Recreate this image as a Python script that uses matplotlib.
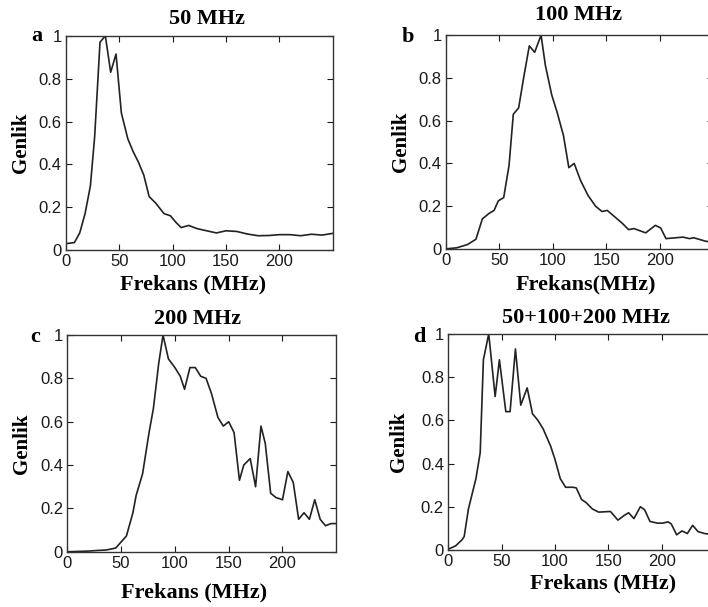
import matplotlib
matplotlib.use("Agg")
from matplotlib import pyplot as plt

# frequency spectra (MHz, normalised amplitude)
freq_a = [0, 8, 13, 18, 23, 27, 32, 37, 42, 47, 52, 58, 63, 68, 73, 78, 84, 92, 98, 103,
          108, 115, 123, 132, 141, 150, 160, 170, 180, 190, 200, 210, 220, 230, 240, 250]
amp_a = [0.03, 0.035, 0.08, 0.17, 0.30, 0.53, 0.97, 1.0, 0.83, 0.915, 0.64, 0.52, 0.46, 0.41,
         0.35, 0.25, 0.22, 0.17, 0.16, 0.13, 0.105, 0.115, 0.10, 0.09, 0.08, 0.09, 0.087,
         0.075, 0.067, 0.068, 0.072, 0.072, 0.067, 0.074, 0.07, 0.078]

freq_b = [0, 10, 20, 28, 34, 40, 45, 49, 54, 59, 63, 68, 73, 78, 83, 89, 93, 99, 104, 110,
          115, 120, 126, 133, 140, 146, 151, 158, 165, 171, 176, 187, 196, 201, 206, 215,
          222, 228, 232, 243, 250]
amp_b = [0, 0.005, 0.02, 0.045, 0.14, 0.165, 0.18, 0.225, 0.24, 0.39, 0.63, 0.66, 0.81, 0.95,
         0.92, 1.0, 0.86, 0.72, 0.64, 0.53, 0.38, 0.40, 0.32, 0.25, 0.20, 0.175, 0.18, 0.15,
         0.12, 0.09, 0.095, 0.075, 0.11, 0.098, 0.048, 0.052, 0.055, 0.048, 0.052, 0.036, 0.03]

freq_c = [0, 19, 28, 36, 45, 50, 55, 61, 64, 70, 76, 80, 85, 89, 94, 100, 105, 109, 114, 119,
          124, 129, 134, 140, 145, 150, 155, 160, 164, 170, 175, 180, 184, 189, 194, 200, 205,
          210, 215, 220, 225, 230, 235, 240, 245, 250]
amp_c = [0, 0.003, 0.006, 0.008, 0.017, 0.045, 0.073, 0.18, 0.26, 0.36, 0.55, 0.66, 0.87, 1.0,
         0.89, 0.85, 0.81, 0.75, 0.85, 0.85, 0.81, 0.80, 0.73, 0.62, 0.58, 0.60, 0.55, 0.33,
         0.40, 0.43, 0.30, 0.58, 0.50, 0.27, 0.25, 0.24, 0.37, 0.32, 0.15, 0.18, 0.15, 0.24,
         0.15, 0.12, 0.13, 0.13]

freq_d = [0, 7, 13, 15, 19, 22, 26, 30, 33, 38, 44, 48, 54, 58, 63, 68, 74, 79, 84, 89, 96,
          100, 105, 110, 117, 120, 125, 129, 135, 141, 152, 159, 165, 169, 174, 180, 184, 189,
          196, 201, 206, 209, 214, 219, 224, 229, 234, 240, 250]
amp_d = [0.003, 0.019, 0.047, 0.062, 0.19, 0.25, 0.33, 0.45, 0.88, 1.0, 0.71, 0.88, 0.64, 0.64,
         0.93, 0.67, 0.75, 0.63, 0.60, 0.56, 0.48, 0.42, 0.33, 0.29, 0.29, 0.287, 0.233, 0.22,
         0.19, 0.175, 0.178, 0.138, 0.16, 0.172, 0.145, 0.20, 0.186, 0.132, 0.124, 0.124, 0.13,
         0.12, 0.07, 0.088, 0.076, 0.114, 0.085, 0.076, 0.07]

titles = ["50 MHz", "100 MHz", "200 MHz", "50+100+200 MHz"]
letters = ["a", "b", "c", "d"]
xlabels = ["Frekans (MHz)", "Frekans(MHz)", "Frekans (MHz)", "Frekans (MHz)"]
xticks = [0, 50, 100, 150, 200]
yticks = [0, 0.2, 0.4, 0.6, 0.8, 1]
ytick_labels = ["0", "0.2", "0.4", "0.6", "0.8", "1"]

serif = {"family": "Liberation Serif", "weight": "bold", "size": 16}
serif_v = {"family": "Liberation Serif", "weight": "bold", "size": 15}

fig = plt.figure(figsize=(7.08, 6.07), dpi=100)
fig.set_facecolor("w")

# axes boxes in figure fraction, b and d run slightly past the right edge as in the scan
boxes = [
    [0.093, 0.588, 0.377, 0.353],
    [0.630, 0.590, 0.377, 0.352],
    [0.095, 0.091, 0.380, 0.357],
    [0.633, 0.094, 0.377, 0.356],
]
# per-panel text placement (axes fraction)
title_pos = [(0.527, 1.056), (0.498, 1.07), (0.483, 1.05), (0.517, 1.052)]
letter_pos = [(-0.11, 0.975), (-0.142, 0.969), (-0.119, 0.969), (-0.109, 0.962)]
xlabel_y = [-0.112, -0.118, -0.14, -0.11]
xlabel_x = [0.478, 0.523, 0.47, 0.58]
ylabel_x = [-0.13, -0.131, -0.131, -0.146]

data = [(freq_a, amp_a), (freq_b, amp_b), (freq_c, amp_c), (freq_d, amp_d)]

for i, (fx, fy) in enumerate(data):
    ax = fig.add_axes(boxes[i])
    ax.plot(fx, fy, color="#222222", lw=1.2)
    ax.set_xlim(0, 250)
    ax.set_ylim(0, 1)
    ax.set_xticks(xticks)
    ax.set_yticks(yticks, ytick_labels)
    ax.tick_params(direction="in", top=True, right=True, length=4, width=0.8,
                   labelsize=12, pad=3, colors="#1a1a1a")
    for lbl in ax.get_xticklabels() + ax.get_yticklabels():
        lbl.set_fontfamily("Liberation Sans")
    for sp in ax.spines.values():
        sp.set_linewidth(1.0)
        sp.set_color("#333333")

    ax.set_xlabel(xlabels[i], fontdict=serif)
    ax.xaxis.set_label_coords(xlabel_x[i], xlabel_y[i])
    ax.set_ylabel("Genlik", fontdict=serif_v)
    ax.yaxis.set_label_coords(ylabel_x[i], 0.5)

    ax.text(*title_pos[i], titles[i], transform=ax.transAxes, ha="center", va="baseline",
            fontdict=serif)
    ax.text(*letter_pos[i], letters[i], transform=ax.transAxes, ha="center", va="baseline",
            fontdict=serif)

fig.savefig("out.png", dpi=100)
plt.close(fig)
